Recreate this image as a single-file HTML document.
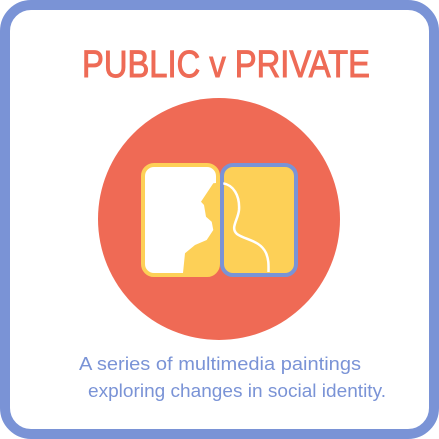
<!DOCTYPE html>
<html><head><meta charset="utf-8"><style>
html,body{margin:0;padding:0;background:#fff;width:439px;height:439px;overflow:hidden}
</style></head><body>
<svg width="439" height="439" viewBox="0 0 439 439" xmlns="http://www.w3.org/2000/svg">
<rect x="5" y="5" width="429" height="429" rx="26" fill="#fff" stroke="#7a93d6" stroke-width="10"/>
<text x="226" y="77" text-anchor="middle" font-family="Liberation Sans, sans-serif" font-size="38" fill="#ee6b56" stroke="#ee6b56" stroke-width="1" textLength="288" lengthAdjust="spacingAndGlyphs">PUBLIC v PRIVATE</text>
<circle cx="219" cy="219" r="121" fill="#ef6a55"/>
<rect x="143" y="165" width="75" height="110" rx="11" fill="#fff" stroke="#fdd057" stroke-width="4"/>
<path d="M213.3,183.3 L201,201.7 L204,205 L206,216.7 L211.7,221.7 L213.3,230 L206.7,240 L195,245 L185,253.3 L183,273 L216,273 L216,183 Z" fill="#fdd057"/>
<rect x="222" y="165" width="74" height="110" rx="11" fill="#fdd057" stroke="#7a93d6" stroke-width="4"/>
<path d="M223.3,183.3 C233,185 240,195 239,210 C238,220 230,228 237,234 C245,240 260,240 266,253 C269,260 268.5,266 268.5,272" fill="none" stroke="#fff" stroke-width="2.5"/>
<text x="220" y="370" text-anchor="middle" font-family="Liberation Sans, sans-serif" font-size="18" fill="#7a93d6" textLength="282" lengthAdjust="spacingAndGlyphs">A series of multimedia paintings</text>
<text x="237" y="397" text-anchor="middle" font-family="Liberation Sans, sans-serif" font-size="18" fill="#7a93d6" textLength="298" lengthAdjust="spacingAndGlyphs">exploring changes in social identity.</text>
</svg>
</body></html>
